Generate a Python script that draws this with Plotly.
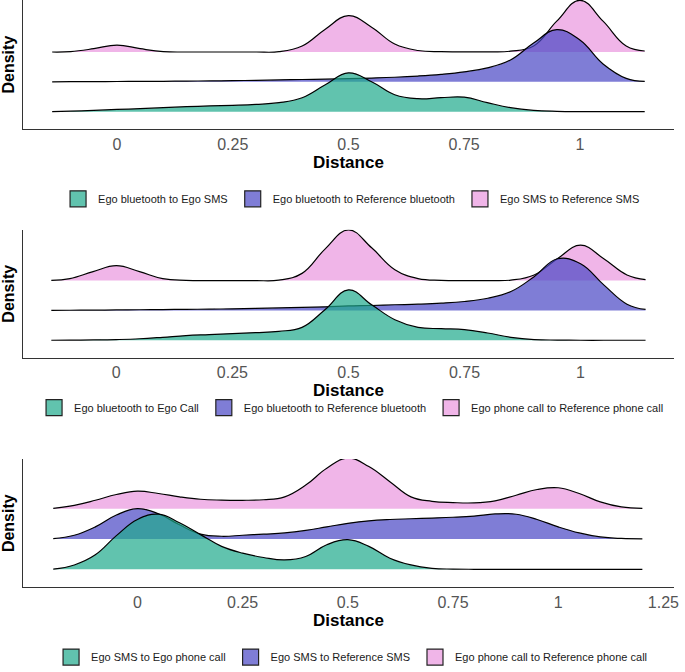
import plotly.graph_objects as go

# ---------------- data (scaled densities) ----------------
x_top = [-0.14, -0.1, -0.05, 0, 0.05, 0.1, 0.15, 0.2, 0.25, 0.3, 0.35, 0.4, 0.45,
         0.5, 0.55, 0.6, 0.65, 0.7, 0.75, 0.8, 0.85, 0.9, 0.95, 1.0, 1.05, 1.1, 1.14]
x_bottom = [-0.2, -0.15, -0.1, -0.05, 0, 0.05, 0.1, 0.15, 0.2, 0.25, 0.3, 0.35, 0.4,
            0.45, 0.5, 0.55, 0.6, 0.65, 0.7, 0.75, 0.8, 0.85, 0.9, 0.95, 1.0, 1.05,
            1.1, 1.15, 1.2]

# Panel 1
p1_labels = ["Ego bluetooth to Ego SMS", "Ego bluetooth to Reference bluetooth",
             "Ego SMS to Reference SMS"]
p1_green = [0, 0.5, 1.2, 2.2, 3, 4, 5, 5.7, 6.3, 7.2, 9, 14, 27, 39, 30, 17, 13, 14,
            14.5, 9, 4, 1.3, 0.3, 0, 0, 0, 0]
p1_purple = [0, 0.1, 0.2, 0.3, 0.4, 0.5, 0.7, 0.9, 1.2, 1.5, 1.9, 2.3, 2.7, 3.2, 3.8,
             4.6, 5.8, 7.5, 10, 14, 22, 39, 52.5, 42, 18, 3.5, 0.5]
p1_pink = [0, 0.4, 3.3, 7, 3.3, 0.4, 0, 0, 0, 0, 0.3, 6, 23, 36.5, 25, 8, 1.5, 0.3,
           0.2, 0.2, 0.8, 6, 31, 52, 31, 6, 1]

# Panel 2
p2_labels = ["Ego bluetooth to Ego Call", "Ego bluetooth to Reference bluetooth",
             "Ego phone call to Reference phone call"]
p2_green = [0, 0.1, 0.3, 0.7, 1.5, 3, 4.7, 5.7, 6.7, 7.7, 9, 13, 31, 50.7, 35.7, 20.7,
            13, 11.7, 10.7, 7.3, 3, 0.7, 0.2, 0, 0, 0, 0]
p2_purple = [0, 0.2, 0.3, 0.5, 0.7, 0.9, 1.1, 1.3, 1.6, 2, 2.5, 3, 3.6, 4.5, 5, 5.7,
             6.3, 7.3, 9, 12.3, 19, 34, 52, 47, 25.7, 6.3, 1]
p2_pink = [0.2, 2, 9, 15, 9, 2, 0.3, 0, 0, 0, 0.5, 7.3, 32, 51, 33, 11, 2, 0.3, 0, 0,
           0.5, 5.7, 22, 35.7, 22, 5.7, 1]

# Panel 3
p3_labels = ["Ego SMS to Ego phone call", "Ego SMS to Reference SMS",
             "Ego phone call to Reference phone call"]
p3_green = [0.2, 4.3, 14.3, 33.3, 49.3, 54.5, 46, 34.3, 22.7, 16, 11.7, 9.3, 12.7,
            24.3, 29.3, 22.7, 11, 4.3, 1, 0.2, 0, 0, 0, 0, 0, 0, 0, 0, 0]
p3_purple = [0.3, 3.7, 12, 23.7, 30, 25, 14, 4.8, 2.7, 3.7, 4.8, 6, 8.5, 12, 15.5, 18,
             19.3, 20, 20.7, 21.5, 22.7, 24.8, 24.5, 19.3, 12, 6, 2, 0.5, 0.1]
p3_pink = [0.3, 3.3, 8.3, 14, 17.3, 15, 11.7, 9.3, 8.5, 8.3, 8.8, 11.7, 23.3, 40, 50,
           41.7, 26.7, 11.7, 7.3, 6, 5.7, 7.7, 13.3, 19, 20.7, 15, 6.7, 1.7, 0.3]

ticks_top = [0, 0.25, 0.5, 0.75, 1]
ticks_bottom = [0, 0.25, 0.5, 0.75, 1, 1.25]

# ---------------- style ----------------
fill_rgb = ["rgba(30,170,140,0.7)", "rgba(72,70,196,0.7)", "rgba(234,150,222,0.7)"]
ridge_gap = 30.0
font_main = "Liberation Sans, Arial, sans-serif"

panels = [
    dict(x=x_top, ser=[p1_green, p1_purple, p1_pink], labels=p1_labels,
         ticks=ticks_top, xr=[-0.204, 1.204], yr=[-17.7, 112.3],
         ydom=[1 - 130 / 672, 1.0], legend_y=1 - 200 / 672),
    dict(x=x_top, ser=[p2_green, p2_purple, p2_pink], labels=p2_labels,
         ticks=ticks_top, xr=[-0.202, 1.202], yr=[-17.7, 111.3],
         ydom=[1 - 360 / 672, 1 - 231 / 672], legend_y=1 - 410 / 672),
    dict(x=x_bottom, ser=[p3_green, p3_purple, p3_pink], labels=p3_labels,
         ticks=ticks_bottom, xr=[-0.273, 1.276], yr=[-18.0, 109.2],
         ydom=[1 - 591 / 672, 1 - 461.7 / 672], legend_y=1 - 661 / 672),
]

fig = go.Figure()
layout = dict(
    width=685, height=672,
    margin=dict(l=0, r=0, t=0, b=0),
    paper_bgcolor="white", plot_bgcolor="white",
    showlegend=True,
)

xdom = [22.7 / 685, 679.3 / 685]

for i, p in enumerate(panels):
    sfx = "" if i == 0 else str(i + 1)
    xa, ya = "x" + sfx, "y" + sfx
    leg = "legend" + sfx
    # draw top ridge first so lower ridges overlay it
    for k in [2, 1, 0]:
        base = k * ridge_gap
        xs = p["x"]
        fig.add_trace(go.Scatter(
            x=xs, y=[base] * len(xs), mode="lines", line=dict(width=0),
            hoverinfo="skip", showlegend=False, xaxis=xa, yaxis=ya))
        fig.add_trace(go.Scatter(
            x=xs, y=[base + v for v in p["ser"][k]], mode="lines",
            line=dict(color="black", width=1.2, shape="spline", smoothing=1.2),
            fill="tonexty", fillcolor=fill_rgb[k],
            name=p["labels"][k], showlegend=False, xaxis=xa, yaxis=ya))
    layout["xaxis" + sfx] = dict(
        domain=xdom, anchor=ya, range=p["xr"],
        tickvals=p["ticks"], ticktext=[f"{t:g}" for t in p["ticks"]],
        showline=True, linecolor="#333", linewidth=1.2, ticks="",
        showgrid=False, zeroline=False,
        tickfont=dict(family=font_main, size=16, color="#555"),
        title=dict(text="Distance", standoff=0,
                   font=dict(family=font_main, size=17, color="black", weight="bold")),
    )
    layout["yaxis" + sfx] = dict(
        domain=p["ydom"], anchor=xa, range=p["yr"],
        showline=True, linecolor="#333", linewidth=1.2, ticks="",
        showticklabels=False, showgrid=False, zeroline=False,
        title=dict(text="Density", standoff=4,
                   font=dict(family=font_main, size=16, color="black", weight="bold")),
    )
    layout[leg] = dict(
        orientation="h", x=0.517, xanchor="center", y=p["legend_y"], yanchor="middle",
        traceorder="normal",
        font=dict(family=font_main, size=11, color="#1a1a1a"),
        bgcolor="rgba(0,0,0,0)", itemclick=False, itemdoubleclick=False,
    )

# legend keys (drawn after all ridges)
for i, p in enumerate(panels):
    sfx = "" if i == 0 else str(i + 1)
    for k in [0, 1, 2]:
        fig.add_trace(go.Scatter(
            x=[None], y=[None], mode="markers", name=p["labels"][k],
            marker=dict(symbol="square", size=16, color=fill_rgb[k],
                        line=dict(color="#222", width=1.2)),
            legend="legend" + sfx, xaxis="x" + sfx, yaxis="y" + sfx))

fig.update_layout(**layout)
fig.write_html(
    "out.html",
    config={"displayModeBar": False},
    post_script="document.body.style.margin='0';document.body.style.padding='0';",
)
